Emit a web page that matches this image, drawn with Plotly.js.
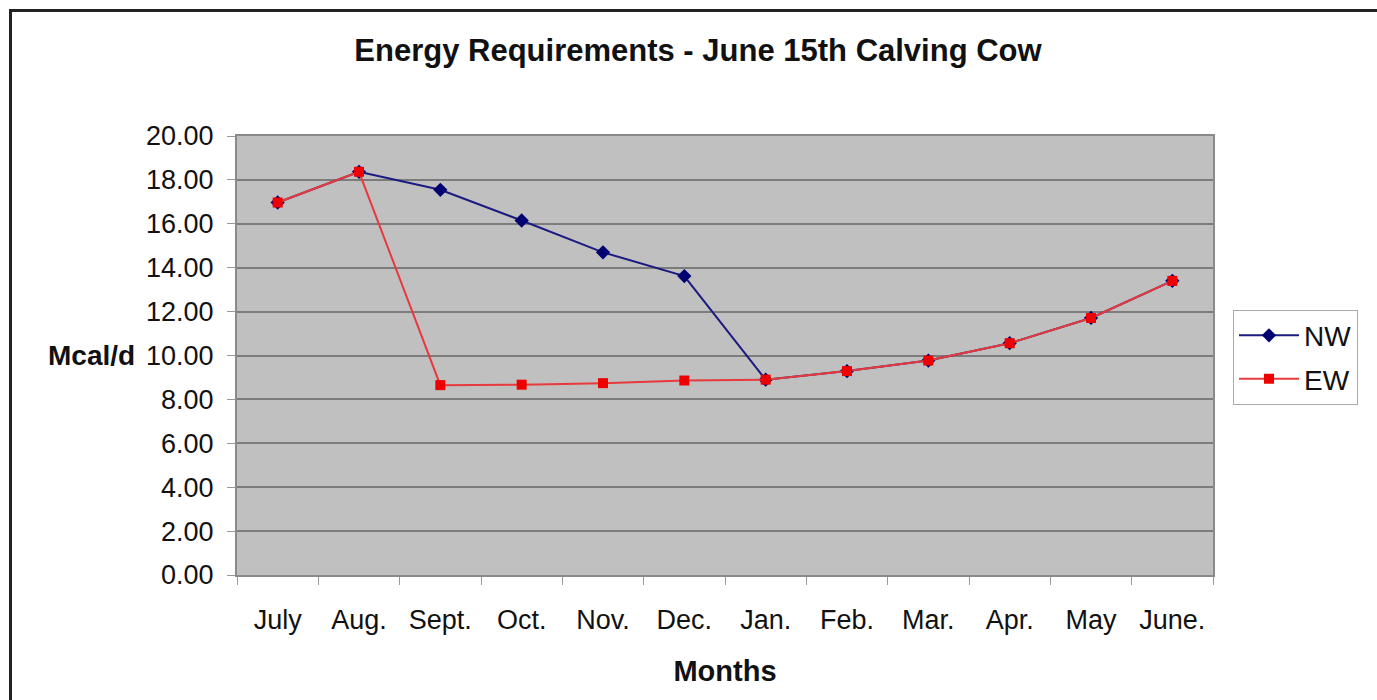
<!DOCTYPE html>
<html>
<head>
<meta charset="utf-8">
<script src="https://cdn.plot.ly/plotly-3.0.1.min.js"></script>
<style>
html,body{margin:0;padding:0;background:#fff;}
#chart{position:absolute;left:0;top:0;width:1377px;height:700px;}
#frame{position:absolute;left:9px;top:9px;width:1377px;height:700px;border-top:3px solid #222;border-left:3px solid #222;pointer-events:none;box-sizing:border-box;}
</style>
</head>
<body>
<div id="chart"></div>
<div id="frame"></div>
<script>
const months = ["July","Aug.","Sept.","Oct.","Nov.","Dec.","Jan.","Feb.","Mar.","Apr.","May","June."];
const nwValues = [16.97, 18.37, 17.55, 16.15, 14.70, 13.62, 8.90, 9.29, 9.77, 10.56, 11.71, 13.40];
const ewValues = [16.97, 18.37, 8.65, 8.67, 8.74, 8.86, 8.90, 9.29, 9.77, 10.56, 11.71, 13.40];
const yTicks = [0,2,4,6,8,10,12,14,16,18,20];
const yTickText = ["0.00","2.00","4.00","6.00","8.00","10.00","12.00","14.00","16.00","18.00","20.00"];

const FONT = "Liberation Sans, Arial, sans-serif";

const traces = [
  {
    x: months, y: nwValues, name: "NW", type: "scatter", mode: "lines+markers",
    legendgroup: "nw",
    line: {color: "#1a1a80", width: 2},
    marker: {symbol: "diamond", size: 11, color: "#000070"}
  },
  {
    x: months, y: ewValues, name: "EW", type: "scatter", mode: "lines+markers",
    legendgroup: "ew",
    line: {color: "#e8393c", width: 2},
    marker: {symbol: "square", size: 10, color: "#ee0000"}
  }
];

const layout = {
  width: 1377, height: 700,
  margin: {l: 237, r: 164, t: 136, b: 125, pad: 0},
  paper_bgcolor: "#ffffff",
  plot_bgcolor: "#c0c0c0",
  font: {family: FONT, color: "#111"},
  title: {
    text: "<b>Energy Requirements - June 15th Calving Cow</b>",
    font: {family: FONT, size: 31, color: "#111"},
    x: 698/1377, xref: "container", xanchor: "center",
    y: 1 - 50/700, yref: "container", yanchor: "middle"
  },
  xaxis: {
    type: "category",
    range: [-0.5, 11.5],
    tickson: "boundaries",
    ticks: "outside", ticklen: 8, tickcolor: "#999", tickwidth: 1,
    ticklabelstandoff: 20,
    showgrid: false,
    showline: true, linecolor: "#8a8a8a", linewidth: 2, mirror: true,
    tickfont: {family: FONT, size: 27, color: "#111"},
    title: {text: "<b>Months</b>", font: {family: FONT, size: 29, color: "#111"}, standoff: 26},
    fixedrange: true
  },
  yaxis: {
    range: [0, 20],
    tickvals: yTicks, ticktext: yTickText,
    ticks: "outside", ticklen: 8, tickcolor: "#999", tickwidth: 1,
    ticklabelstandoff: 8,
    showgrid: true, gridcolor: "#7c7c7c", gridwidth: 2,
    zeroline: false,
    showline: true, linecolor: "#8a8a8a", linewidth: 2, mirror: true,
    tickfont: {family: FONT, size: 27, color: "#111"},
    fixedrange: true
  },
  legend: {
    x: (1233-237)/976, xanchor: "left",
    y: 1 - (310-136)/440, yanchor: "top",
    bordercolor: "#aaaaaa", borderwidth: 1, bgcolor: "#ffffff",
    font: {family: FONT, size: 28, color: "#111"},
    itemwidth: 60,
    tracegroupgap: 4
  },
  annotations: [
    {
      text: "<b>Mcal/d</b>", xref: "paper", yref: "y",
      x: (137-237)/976, y: 10, xanchor: "right", yanchor: "middle",
      showarrow: false, font: {family: FONT, size: 28, color: "#111"}
    }
  ],
  showlegend: true
};

Plotly.newPlot("chart", traces, layout, {staticPlot: true, displayModeBar: false});
</script>
</body>
</html>
